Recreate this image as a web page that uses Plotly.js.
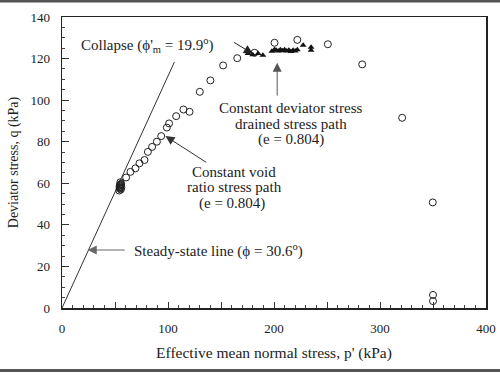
<!DOCTYPE html>
<html>
<head>
<meta charset="utf-8">
<script src="https://cdn.plot.ly/plotly-3.0.1.min.js"></script>
<style>html,body{margin:0;padding:0;background:#fff;}#chart{width:500px;height:375px;}</style>
</head>
<body>
<div id="chart"></div>
<script>
// Constant void ratio stress path (open circles); the first points form the dense cluster near p' = 55 kPa
const voidP = [54, 54.5, 55, 55.5, 56, 55, 54.5, 55.5, 54.8, 55.2, 54.3, 55.8, 60.5, 64.6, 69.3, 73.1, 77.8, 81, 85, 89.5, 93.6, 98.9, 101, 107.7, 114.6, 120.3, 130, 140, 152, 165.3, 181.6, 200.5, 222, 250.8, 283.2, 320.9, 349.8, 350, 350];
const voidQ = [56.5, 57.5, 58.5, 59.5, 58, 60.5, 59, 57, 57.8, 59.2, 58.2, 59.8, 62.8, 65.5, 67.2, 69.6, 71.2, 75.1, 77.5, 80, 82.7, 86.8, 88.8, 92.3, 95.5, 94.4, 104, 109.5, 116.7, 120.2, 122.8, 127.6, 129, 126.9, 117.2, 91.5, 50.8, 6.3, 3.3];
// Constant deviator stress drained stress path (filled triangles)
const drainedP = [175.5, 180, 185, 189.5, 198, 200.5, 202, 204, 206, 208, 210, 212, 214, 216, 218, 220, 222, 227.5, 235, 235];
const drainedQ = [122.4, 121.8, 122.4, 121.6, 123.5, 124.4, 124, 123.6, 124.2, 123.8, 124.2, 123.6, 124, 123.4, 124, 123.6, 124.2, 126.4, 124, 125.5];
// Steady-state line
const sslP = [0, 106];
const sslQ = [0, 118.3];
// Axis ticks
const xTickVals = [0, 50, 100, 150, 200, 250, 300, 350, 400];
const xTickText = ['0', '', '100', '', '200', '', '300', '', '400'];
const yTickVals = [0, 20, 40, 60, 80, 100, 120, 140];
const yTickText = ['0', '20', '40', '60', '80', '100', '120', '140'];

const FONT = 'Liberation Serif, Times New Roman, serif';
const INK = '#222';

const traces = [
  {x: sslP, y: sslQ, type: 'scatter', mode: 'lines', line: {color: '#333', width: 1}, hoverinfo: 'skip'},
  {x: voidP, y: voidQ, type: 'scatter', mode: 'markers',
   marker: {symbol: 'circle-open', size: 7, color: '#222', line: {width: 1, color: '#222'}}},
  {x: drainedP, y: drainedQ, type: 'scatter', mode: 'markers',
   marker: {symbol: 'triangle-up', size: 6, color: '#111'}}
];

function label(x, y, text, anchor) {
  return {x: x, y: y, xref: 'x', yref: 'y', xanchor: anchor || 'center', yanchor: 'middle',
          showarrow: false, text: text};
}
function arrow(x, y, ax, ay, color) {
  return {x: x, y: y, ax: ax, ay: ay, xref: 'x', yref: 'y', axref: 'x', ayref: 'y', text: '',
          showarrow: true, arrowhead: 2, arrowsize: 1.8, arrowwidth: 1, arrowcolor: color};
}

const ann = [
  label(16, 126.4, "Collapse (ϕ'<sub>m</sub> = 19.9<sup>o</sup>)", 'left'),
  arrow(180, 122.3, 161, 128.2, '#222'),
  label(216, 96, 'Constant deviator stress'),
  label(216, 88.5, 'drained stress path'),
  label(216, 81, '(e = 0.804)'),
  arrow(203, 118, 203, 101.5, '#555'),
  label(162.5, 65.5, 'Constant void'),
  label(162.5, 58, 'ratio stress path'),
  label(160, 50.5, '(e = 0.804)'),
  arrow(97.6, 82.7, 137.5, 69.6, '#333'),
  label(66.5, 27.9, 'Steady-state line (ϕ = 30.6<sup>o</sup>)', 'left'),
  arrow(24.3, 27.9, 60.6, 27.9, '#666')
];

const layout = {
  width: 500, height: 375,
  margin: {l: 62, r: 14, t: 17, b: 67},
  paper_bgcolor: '#fff', plot_bgcolor: '#fff',
  showlegend: false,
  font: {family: FONT, color: INK, size: 13},
  xaxis: {
    range: [0, 400], showgrid: false, zeroline: false,
    showline: true, linecolor: '#222', linewidth: 1.5, mirror: true,
    ticks: 'inside', ticklen: 6, tickcolor: '#333', tickwidth: 1,
    tickvals: xTickVals, ticktext: xTickText, ticklabelstandoff: 8,
    minor: {dtick: 10, ticks: 'inside', ticklen: 3, tickcolor: '#444', showgrid: false},
    tickfont: {size: 13, family: FONT, color: INK},
    title: {text: "Effective mean normal stress, p' (kPa)", font: {size: 15.5, family: FONT, color: INK}, standoff: 12}
  },
  yaxis: {
    range: [0, 140], showgrid: false, zeroline: false,
    showline: true, linecolor: '#222', linewidth: 1.5, mirror: true,
    ticks: 'inside', ticklen: 7, tickcolor: '#333', tickwidth: 1,
    tickvals: yTickVals, ticktext: yTickText, ticklabelstandoff: 8,
    minor: {dtick: 5, ticks: 'inside', ticklen: 3, tickcolor: '#444', showgrid: false},
    tickfont: {size: 13, family: FONT, color: INK},
    title: {text: 'Deviator stress, q (kPa)', font: {size: 14, family: FONT, color: INK}, standoff: 8}
  },
  annotations: ann.map(a => Object.assign({}, a, {font: {family: FONT, color: INK, size: 15}})),
  shapes: [
    {type: 'line', xref: 'paper', yref: 'paper', x0: -0.2, x1: 1.1, y0: 1.055, y1: 1.055, line: {color: '#555', width: 3}},
    {type: 'line', xref: 'paper', yref: 'paper', x0: -0.2, x1: 1.1, y0: -0.215, y1: -0.215, line: {color: '#555', width: 3}}
  ]
};

Plotly.newPlot('chart', traces, layout, {displayModeBar: false, staticPlot: true});
</script>
</body>
</html>
